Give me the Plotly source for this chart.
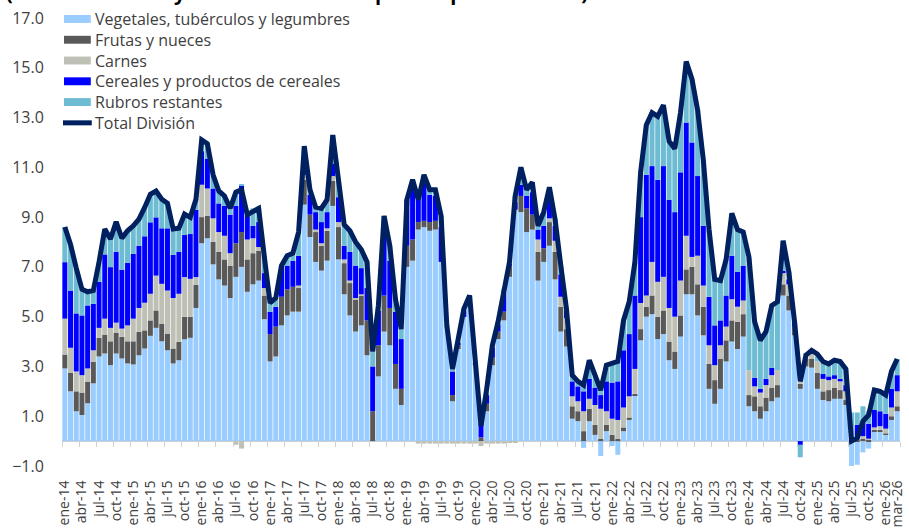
import plotly.graph_objects as go

# Meses ene-14 ... mar-26
mes_abr = ["ene", "feb", "mar", "abr", "may", "jun", "jul", "ago", "sep", "oct", "nov", "dic"]
meses = [f"{m}-{a:02d}" for a in range(14, 27) for m in mes_abr][:147]

vegetales = [
    2.92, 2.0, 1.2, 1.05, 1.52, 2.32, 3.4, 3.52, 3.05, 3.52, 3.32, 3.12,
    3.08, 3.45, 3.72, 4.23, 4.55, 4.01, 3.65, 3.12, 3.25, 4.09, 4.15, 5.35,
    7.95, 8.15, 7.1, 6.5, 6.25, 5.75, 6.6, 7.0, 6.0, 6.3, 6.45, 4.9,
    3.2, 3.4, 4.65, 5.05, 5.2, 5.2, 9.5, 8.2, 7.2, 6.85, 7.25, 9.45,
    7.3, 5.9, 5.05, 4.4, 4.65, 3.45, 0.0, 2.6, 4.4, 3.85, 2.1, 1.45,
    7.0, 7.25, 8.5, 8.6, 8.45, 8.5, 7.2, 4.65, 1.6, 3.7, 4.99, 5.55,
    3.05, 0.0, 1.2, 3.05, 4.1, 4.85, 6.6, 9.3, 9.2, 8.4, 8.5, 6.45,
    7.2, 7.85, 6.5, 4.4, 3.8, 0.9, 0.8, -0.27, 0.8, 0.25, -0.6, 0.4,
    -0.2, -0.55, 0.4, 0.85, 1.85, 4.05, 5.0, 5.1, 4.1, 4.3, 3.25, 2.9,
    4.2, 5.9, 5.9, 5.05, 4.25, 2.1, 1.5, 2.1, 3.2, 4.0, 3.7, 4.2,
    1.4, 1.2, 0.9, 1.2, 1.6, 1.75, 5.85, 5.25, 4.25, 2.1, 3.0, 2.95,
    2.1, 1.65, 1.6, 1.7, 1.7, 1.45, -1.0, -0.95, -0.45, -0.3, 0.4, 0.4,
    0.25, 0.85, 1.2,
]
frutas = [
    0.56, 0.75, 0.8, 0.9, 0.87, 0.87, 0.75, 0.76, 0.96, 0.84, 0.87, 0.89,
    0.93, 0.94, 0.73, 0.62, 0.7, 0.71, 0.67, 0.6, 0.74, 0.9, 0.84, 0.93,
    1.05, 0.9, 0.9, 1.1, 1.05, 1.3, 1.35, 1.4, 1.3, 1.25, 1.2, 0.95,
    1.1, 1.2, 1.15, 1.05, 1.0, 0.95, 1.0, 0.9, 1.2, 1.0, 1.2, 1.0,
    1.3, 1.25, 1.3, 1.3, 1.2, 1.4, 1.2, 1.25, 1.45, 1.5, 1.0, 0.65,
    0.85, 0.85, 0.3, 0.25, 0.35, 0.35, 0.0, 0.0, 0.25, 0.15, 0.0, 0.0,
    0.0, 0.15, 0.3, 0.3, 0.3, 0.35, 0.45, 0.0, 0.65, 0.95, 0.6, 1.15,
    0.55, 0.95, 1.1, 1.0, 0.7, 0.5, 0.4, 0.4, 0.5, 0.4, 0.1, 0.25,
    0.25, 0.1, 0.15, 0.1, 0.05, 0.45, 0.4, 0.75, 0.9, 0.95, 0.75, 0.7,
    0.85, 1.0, 1.1, 1.25, 1.15, 1.0, 0.95, 1.2, 0.85, 0.85, 1.1, 0.9,
    0.45, 0.6, 0.5, 0.55, 0.55, 0.5, 0.45, 0.6, 0.35, 0.2, 0.3, 0.35,
    0.65, 0.35, 0.45, 0.45, 0.35, 0.2, 0.0, 0.05, 0.1, 0.05, 0.05, 0.05,
    0.05, 0.15, 0.2,
]
carnes = [
    1.44, 1.0, 0.8, 0.7, 0.53, 0.46, 0.4, 0.64, 0.54, 0.4, 0.33, 0.64,
    0.91, 0.96, 1.11, 1.07, 1.4, 1.6, 1.73, 2.03, 1.93, 1.6, 1.53, 0.31,
    1.3, 1.1, 0.95, 0.8, 0.95, 0.5, -0.15, -0.3, 0.8, 0.6, 0.15, 0.3,
    0.0, 0.0, 0.0, 0.0, 0.0, 0.1, 0.2, 0.0, 0.1, 0.1, 0.1, 0.2,
    0.2, 0.15, 0.1, 0.05, 0.05, 0.0, 0.0, 0.0, 0.0, 0.0, 0.0, 0.0,
    0.0, 0.0, -0.1, -0.1, -0.1, -0.1, -0.1, -0.1, -0.1, -0.1, -0.1, -0.1,
    -0.1, -0.2, -0.1, -0.1, -0.1, -0.1, -0.05, -0.05, 0.0, 0.0, 0.0, 0.5,
    0.0, 0.15, 0.45, 0.4, 0.45, 0.4, 0.4, 0.8, 0.4, 0.8, 1.2, 0.55,
    0.65, 0.75, 0.8, 0.85, 1.0, 1.05, 0.45, 1.35, 1.4, 1.35, 1.35, 1.4,
    1.4, 1.35, 0.4, 1.15, 0.85, 0.75, 0.6, 0.55, 0.55, 0.85, 0.6, 0.55,
    1.0, 0.4, 0.55, 0.5, 0.5, 0.6, 0.45, 0.45, 0.0, 0.1, 0.15, 0.3,
    0.45, 0.5, 0.4, 0.35, 0.35, 0.35, 0.0, 0.05, 0.1, 0.05, 0.1, 0.15,
    0.2, 0.35, 0.6,
]
cereales = [
    2.27, 2.3, 2.33, 2.4, 2.53, 1.87, 1.85, 2.58, 2.44, 2.85, 2.37, 2.51,
    2.6, 2.5, 2.67, 2.87, 2.34, 2.23, 2.5, 1.73, 1.69, 1.69, 1.8, 2.7,
    1.35, 1.2, 1.2, 1.15, 1.2, 1.55, 1.5, 1.85, 0.95, 0.5, 1.0, 0.6,
    0.9, 0.8, 1.25, 0.95, 1.05, 1.2, 0.6, 0.8, 0.7, 0.85, 0.65, 0.5,
    1.0, 0.55, 1.15, 1.3, 1.05, 1.3, 1.8, 1.4, 2.5, 1.9, 2.1, 2.0,
    1.85, 2.05, 0.9, 1.75, 1.1, 1.0, 1.4, 0.0, 0.95, 0.1, 0.25, 0.0,
    0.1, 0.55, 0.35, 0.4, 0.3, 0.8, 0.1, 0.3, 0.45, 0.5, 0.9, 0.4,
    0.9, 0.8, 0.6, 0.9, 0.3, 0.6, 0.6, 0.8, 0.8, 0.7, 0.55, 1.2,
    1.45, 1.55, 2.3, 2.5, 2.95, 3.45, 4.85, 3.85, 4.1, 4.45, 4.35, 4.2,
    4.35, 4.55, 4.6, 3.2, 2.4, 1.95, 1.6, 1.0, 1.25, 1.75, 1.4, 1.4,
    0.0, 0.35, 0.15, 0.25, 0.3, 0.0, 0.1, 0.2, 0.15, -0.15, 0.0, 0.0,
    0.0, 0.2, 0.15, 0.15, 0.1, 0.25, 0.05, 0.55, 0.6, 0.6, 0.7, 0.6,
    0.6, 0.75, 0.65,
]
rubros = [
    1.41, 1.85, 1.8, 1.05, 0.55, 0.53, 0.8, 1.02, 1.13, 1.2, 1.26, 1.29,
    1.13, 1.07, 1.16, 1.13, 1.06, 1.17, 1.01, 1.04, 0.94, 0.84, 0.67, 0.43,
    0.35, 0.55, 0.5, 0.45, 0.4, 0.2, 0.5, 0.05, 0.15, 0.7, 0.55, 0.7,
    0.35, 0.3, 0.0, 0.4, 0.3, 0.95, 0.5, 0.2, 0.2, 0.55, 0.5, 1.15,
    0.7, 0.85, 0.85, 0.95, 0.75, 1.05, 0.6, 0.2, 0.7, 0.6, 0.5, 0.4,
    0.0, 0.35, 0.0, 0.1, 0.2, 0.25, 0.45, 0.0, 0.1, 0.05, 0.08, 0.3,
    0.0, 0.15, 0.1, 0.1, 0.1, 0.12, 0.05, 0.25, 0.7, 0.25, 0.4, 0.15,
    0.55, 0.45, 0.25, 0.35, 0.05, 0.25, 0.2, 0.25, 0.75, 0.5, 0.2, 0.65,
    0.75, 0.8, 1.2, 1.3, 1.35, 1.75, 2.0, 2.15, 2.5, 2.45, 2.35, 2.55,
    2.4, 2.45, 2.55, 2.65, 2.65, 2.7, 1.85, 1.6, 1.45, 1.7, 1.7, 1.35,
    4.5, 2.25, 1.95, 1.9, 2.5, 2.75, 1.2, 0.3, 0.05, -0.5, 0.1, 0.05,
    0.3, 0.5, 0.5, 0.6, 0.7, 0.65, 1.1, 0.5, 0.6, 0.5, 0.8, 0.8,
    0.75, 0.75, 0.65,
]
total = [
    8.6, 7.9, 6.95, 6.1, 6.0, 6.05, 7.2, 8.52, 8.12, 8.81, 8.15, 8.45,
    8.65, 8.92, 9.39, 9.92, 10.05, 9.72, 9.56, 8.52, 8.55, 9.12, 8.99, 9.72,
    12.1, 11.95, 10.7, 10.05, 9.85, 9.35, 10.0, 10.1, 9.1, 9.25, 9.35, 7.4,
    5.55, 5.75, 7.05, 7.45, 7.55, 8.4, 11.85, 10.1, 9.4, 9.35, 9.7, 12.3,
    10.5, 8.7, 8.45, 8.0, 7.7, 7.2, 3.6, 5.45, 9.05, 7.85, 5.7, 4.5,
    9.7, 10.5, 9.7, 10.7, 10.1, 10.1, 9.05, 4.65, 2.9, 4.0, 5.32, 5.85,
    3.2, 0.6, 2.1, 3.85, 4.8, 6.12, 7.2, 9.85, 11.0, 10.1, 10.4, 8.65,
    9.2, 10.2, 8.9, 7.05, 5.3, 2.65, 2.4, 2.25, 3.25, 2.65, 2.05, 3.05,
    3.1, 3.2, 4.85, 5.6, 7.2, 10.8, 12.7, 13.2, 13.05, 13.5, 12.05, 11.75,
    13.2, 15.25, 14.55, 13.3, 11.3, 8.5, 6.5, 6.45, 7.3, 9.15, 8.5, 8.4,
    7.4, 4.8, 4.05, 4.4, 5.45, 5.6, 8.05, 6.8, 4.8, 2.4, 3.45, 3.65,
    3.5, 3.2, 3.1, 3.25, 3.2, 2.9, 0.0, 0.12, 0.8, 1.05, 2.05, 2.0,
    1.85, 2.8, 3.3,
]

series = [
    ("Vegetales, tubérculos y legumbres", vegetales, "#99CCFF"),
    ("Frutas y nueces", frutas, "#595959"),
    ("Carnes", carnes, "#BFC0B5"),
    ("Cereales y productos de cereales", cereales, "#0000FF"),
    ("Rubros restantes", rubros, "#6DBCD4"),
]
color_total = "#002060"
font_txt = "Open Sans"
gris_txt = "#404040"

fig = go.Figure()
for nombre, valores, color in series:
    fig.add_trace(go.Bar(x=meses, y=valores, name=nombre, marker_color=color,
                         marker_line_width=0, showlegend=False))
fig.add_trace(go.Scatter(x=meses, y=total, name="Total División", mode="lines",
                         line=dict(color=color_total, width=5), showlegend=False))
# eje auxiliar solo para las marcas sobre la linea del cero
fig.add_trace(go.Scatter(x=[], y=[], xaxis="x2", showlegend=False))

# leyenda dibujada a mano (rectangulos anchos como en el original)
x0, ancho = 62, 844
y_abajo, alto = 471, 453
def px_x(p):
    return (p - x0) / ancho
def px_y(p):
    return (y_abajo - p) / alto

entradas = [(n, c) for n, _, c in series] + [("Total División", color_total)]
for k, (nombre, color) in enumerate(entradas):
    yc = 19 + 21 * k
    if nombre == "Total División":
        fig.add_shape(type="line", xref="paper", yref="paper",
                      x0=px_x(63), x1=px_x(92), y0=px_y(yc), y1=px_y(yc),
                      line=dict(color=color, width=5))
    else:
        fig.add_shape(type="rect", xref="paper", yref="paper",
                      x0=px_x(64), x1=px_x(91), y0=px_y(yc - 4), y1=px_y(yc + 4),
                      fillcolor=color, line_width=0)
    fig.add_annotation(text=nombre, xref="paper", yref="paper",
                       x=px_x(93), y=px_y(yc), xanchor="left", yanchor="middle",
                       showarrow=False, font=dict(family=font_txt, size=16, color=gris_txt))

# titulo cortado en el borde superior
fig.add_annotation(text="<b>(Variación anual y contribuciones en puntos porcentuales)</b>",
                   xref="paper", yref="paper", x=px_x(4), y=px_y(8),
                   xanchor="left", yanchor="bottom", showarrow=False,
                   font=dict(family=font_txt, size=20, color="#000000"))

etiquetas = meses[::3] + [meses[-1]]
marcas = [i - 0.5 for i in range(0, len(meses) + 1, 3)]

fig.update_layout(
    width=909, height=531,
    margin=dict(l=62, r=3, t=18, b=60),
    paper_bgcolor="white", plot_bgcolor="white",
    barmode="relative", bargap=0.12,
    font=dict(family=font_txt, color=gris_txt),
    xaxis=dict(type="category", tickvals=etiquetas, ticktext=etiquetas,
               tickangle=-90, ticks="outside", ticklen=8, tickcolor="rgba(0,0,0,0)",
               tickfont=dict(size=14, color=gris_txt), showgrid=False,
               showline=False, range=[-0.5, len(meses) - 0.5]),
    xaxis2=dict(overlaying="x", anchor="free", position=1 / 18, side="bottom",
                range=[-0.5, len(meses) - 0.5], tickvals=marcas, ticks="outside",
                ticklen=5, tickcolor="#d0d0d0", showticklabels=False,
                showgrid=False, zeroline=False, showline=False),
    yaxis=dict(range=[-1, 17], tickvals=list(range(-1, 18, 2)), tickformat=".1f",
               ticks="outside", ticklen=14, tickcolor="rgba(0,0,0,0)",
               tickfont=dict(size=16, color=gris_txt), showgrid=False,
               zeroline=True, zerolinecolor="#d0d0d0", zerolinewidth=1.5),
)

# sin margen del body, para que la figura empiece en la esquina de la ventana
fig.write_html("out.html", config={"displayModeBar": False},
               post_script="document.body.style.margin='0';")
